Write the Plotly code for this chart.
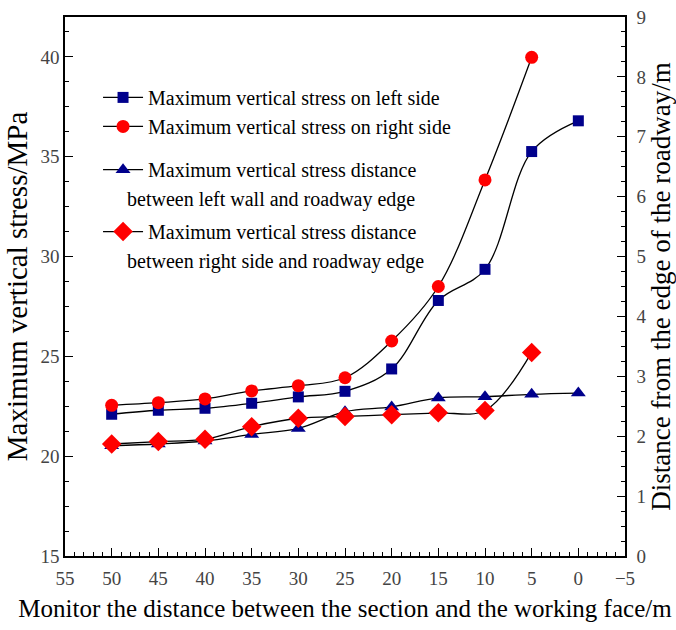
import plotly.graph_objects as go

# Distance between monitoring section and working face (m)
dist_sq = [50, 45, 40, 35, 30, 25, 20, 15, 10, 5, 0]
stress_left = [22.1, 22.3, 22.4, 22.65, 22.97, 23.25, 24.37, 27.8, 29.36, 35.26, 36.8]

dist_ci = [50, 45, 40, 35, 30, 25, 20, 15, 10, 5]
stress_right = [22.55, 22.68, 22.87, 23.27, 23.53, 23.93, 25.77, 28.5, 33.84, 39.98]

dist_tr = [50, 45, 40, 35, 30, 25, 20, 15, 10, 5, 0]
pos_left = [1.84, 1.87, 1.92, 2.03, 2.13, 2.41, 2.49, 2.64, 2.66, 2.70, 2.72]

dist_di = [50, 45, 40, 35, 30, 25, 20, 15, 10, 5]
pos_right = [1.87, 1.91, 1.95, 2.16, 2.30, 2.33, 2.36, 2.39, 2.43, 3.40]

names = [
    "Maximum vertical stress on left side",
    "Maximum vertical stress on right side",
    "Maximum vertical stress distance",
    "Maximum vertical stress distance",
]
second_lines = [
    "between left wall and roadway edge",
    "between right side and roadway edge",
]

NAVY = "#00008c"
RED = "#ff0000"
FONT = "Liberation Serif"

fig = go.Figure()
line = dict(color="black", width=1.3, shape="spline", smoothing=1.0)

fig.add_trace(go.Scatter(x=dist_sq, y=stress_left, name=names[0], mode="lines+markers",
                         line=line, legend="legend",
                         marker=dict(symbol="square", size=11, color=NAVY), yaxis="y"))
fig.add_trace(go.Scatter(x=dist_ci, y=stress_right, name=names[1], mode="lines+markers",
                         line=line, legend="legend",
                         marker=dict(symbol="circle", size=13, color=RED), yaxis="y"))
fig.add_trace(go.Scatter(x=dist_tr, y=pos_left, name=names[2], mode="lines+markers",
                         line=line, legend="legend2",
                         marker=dict(symbol="triangle-up", size=13, color=NAVY), yaxis="y2"))
fig.add_trace(go.Scatter(x=dist_di, y=pos_right, name=names[3], mode="lines+markers",
                         line=line, legend="legend3",
                         marker=dict(symbol="diamond", size=15, color=RED), yaxis="y2"))

tickfont = dict(family=FONT, size=19, color="#444")
legfont = dict(family=FONT, size=20, color="black")
leg_common = dict(xanchor="left", yanchor="top", bgcolor="rgba(0,0,0,0)",
                  font=legfont, itemwidth=40)

fig.update_layout(
    width=676, height=630,
    margin=dict(l=65, r=51, t=17, b=74, autoexpand=False),
    paper_bgcolor="white", plot_bgcolor="white",
    font=dict(family=FONT, color="black"),
    showlegend=True,
    legend=dict(x=0.059, y=0.887, **leg_common),
    legend2=dict(x=0.059, y=0.753, **leg_common),
    legend3=dict(x=0.059, y=0.638, **leg_common),
    xaxis=dict(range=[55, -5], tickmode="linear", tick0=0, dtick=5,
               showline=True, linecolor="black", linewidth=1.5, mirror=True,
               ticks="inside", ticklen=8, tickwidth=1.3, tickcolor="black",
               minor=dict(dtick=1, tick0=0, ticks="inside", ticklen=4, tickwidth=1, tickcolor="black"),
               showgrid=False, zeroline=False, tickfont=tickfont, ticklabelstandoff=4,
               title=dict(text="Monitor the distance between the section and the working face/m",
                          font=dict(family=FONT, size=25), standoff=12)),
    yaxis=dict(range=[15, 42], tickmode="linear", tick0=15, dtick=5,
               showline=True, linecolor="black", linewidth=1.5,
               ticks="inside", ticklen=8, tickwidth=1.3, tickcolor="black",
               minor=dict(dtick=1.25, tick0=15, ticks="inside", ticklen=4, tickwidth=1, tickcolor="black"),
               showgrid=False, zeroline=False, tickfont=tickfont,
               title=dict(text="Maximum vertical stress/MPa",
                          font=dict(family=FONT, size=29), standoff=4)),
    yaxis2=dict(range=[0, 9], overlaying="y", side="right", tickmode="linear", tick0=0, dtick=1,
                showline=True, linecolor="black", linewidth=1.5,
                ticks="inside", ticklen=8, tickwidth=1.3, tickcolor="black",
                minor=dict(dtick=0.25, tick0=0, ticks="inside", ticklen=4, tickwidth=1, tickcolor="black"),
                showgrid=False, zeroline=False, tickfont=tickfont, ticklabelstandoff=6,
                title=dict(text="Distance from the edge of the roadway/m",
                           font=dict(family=FONT, size=27), standoff=3)),
    annotations=[
        dict(text=second_lines[0], xref="paper", yref="paper", x=0.107, y=0.6605,
             xanchor="left", yanchor="middle", showarrow=False, font=legfont),
        dict(text=second_lines[1], xref="paper", yref="paper", x=0.107, y=0.5455,
             xanchor="left", yanchor="middle", showarrow=False, font=legfont),
    ],
)

fig.write_html("out.html")
